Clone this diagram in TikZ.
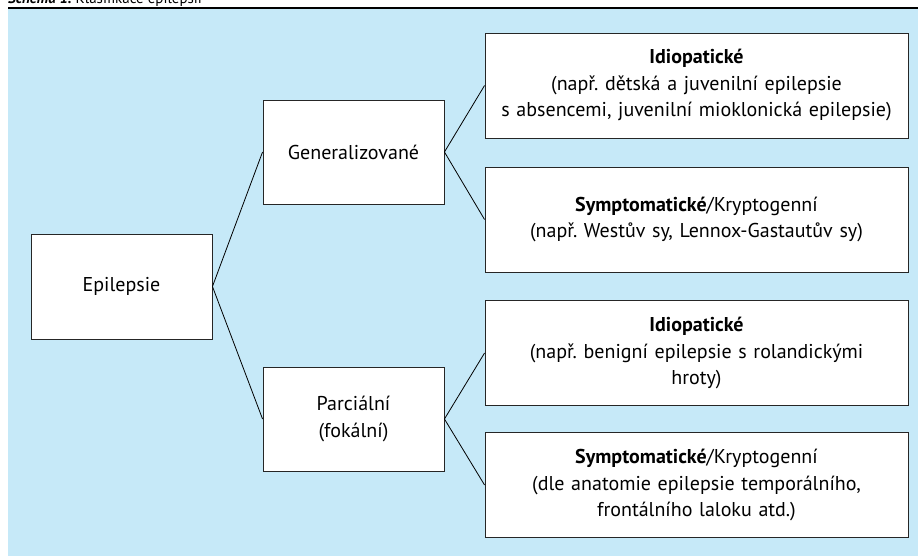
\documentclass[tikz,border=0pt]{standalone}
\usepackage{fontspec}
\setmainfont{PT Sans}
\frenchspacing
\definecolor{bgblue}{RGB}{198,233,248}
\begin{document}
\begin{tikzpicture}[x=1pt,y=-1pt,
    box/.style={draw=black!85,fill=white,line width=0.9pt,inner sep=0pt,align=center,
      font=\fontsize{20}{26.5}\selectfont},
    leftbox/.style={box,minimum width=181pt,minimum height=104pt},
    rightbox/.style={box,minimum width=423pt,minimum height=105pt,text width=415pt},
    link/.style={draw=black,line width=0.8pt}]
  \def\xl{121.5};\def\xm{353.5};\def\xr{696.5};
  \useasboundingbox (0,0) rectangle (918,556);
% background
  \fill[bgblue] (8,9) rectangle (918,556);
  \draw[line width=2pt] (8,8) -- (918,8);
  \node[anchor=base west,inner sep=0pt,font=\fontsize{15}{18}\selectfont] (title) at (8,4)
    {\textbf{\textit{Schéma 1.}} Klasifikace epilepsií};

% boxes
  \node[leftbox,minimum height=105pt] (epi) at (\xl,286.5) {Epilepsie};
  \node[leftbox] (gen) at (\xm,152) {Generalizované};
  \node[leftbox] (par) at (\xm,419) {Parciální\\(fokální)};

  \node[rightbox] (genid) at (\xr,85.5)
    {\textbf{Idiopatické}\\(např. dětská a juvenilní epilepsie\\s absencemi, juvenilní mioklonická epilepsie)};
  \node[rightbox] (gensy) at (\xr,219.5)
    {\textbf{Symptomatické}/Kryptogenní\\(např. Westův sy, Lennox-Gastautův sy)};
  \node[rightbox] (parid) at (\xr,353)
    {\textbf{Idiopatické}\\(např. benigní epilepsie s rolandickými\\hroty)};
  \node[rightbox] (parsy) at (\xr,485)
    {\textbf{Symptomatické}/Kryptogenní\\(dle anatomie epilepsie temporálního,\\frontálního laloku atd.)};

% links
  \path[link] (epi.east) -- (gen.west);
  \path[link] (epi.east) -- (par.west);
  \path[link] (gen.east) -- (genid.west);
  \path[link] (gen.east) -- (gensy.west);
  \path[link] (par.east) -- (parid.west);
  \path[link] (par.east) -- (parsy.west);
\end{tikzpicture}
\end{document}
